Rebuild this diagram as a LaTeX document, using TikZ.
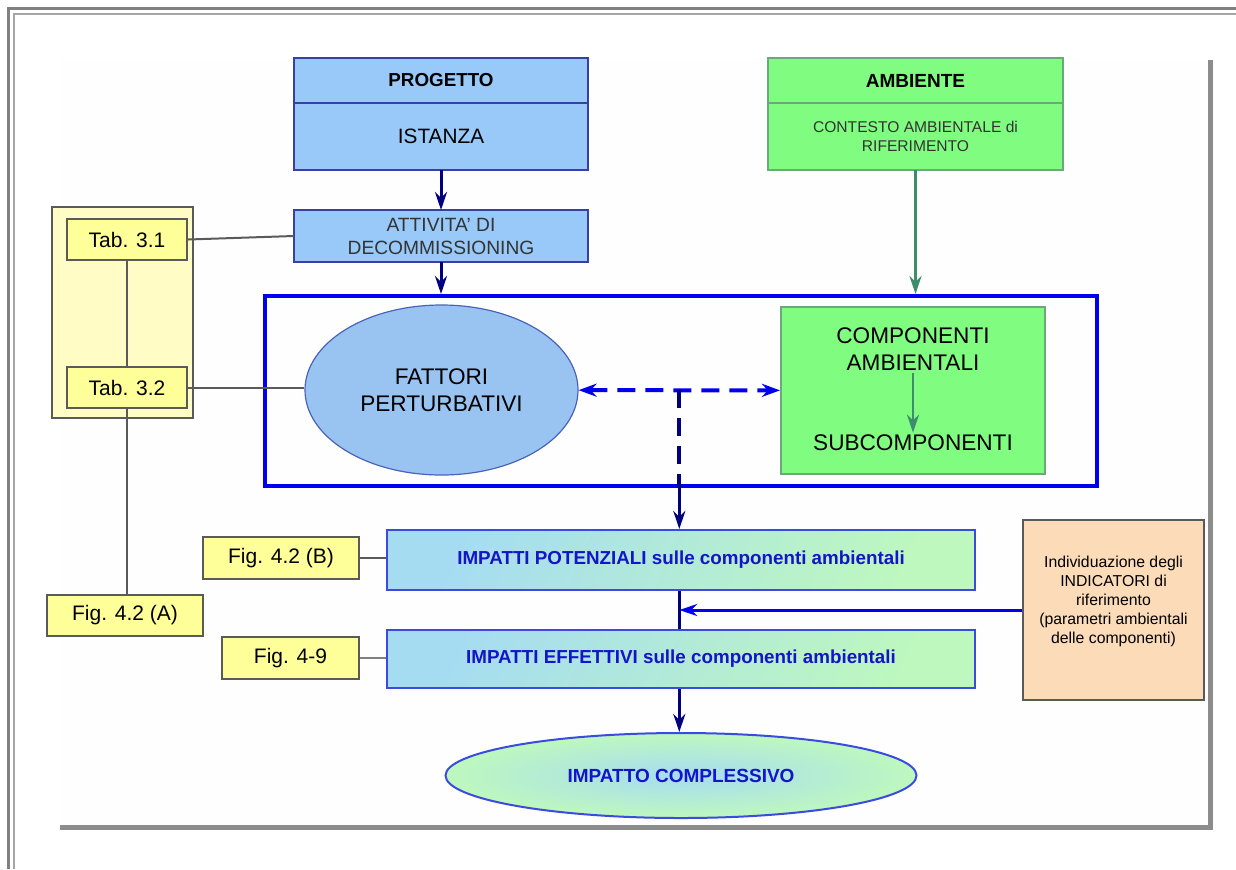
\documentclass[tikz,border=0pt]{standalone}
\usepackage{fontspec}
\setmainfont{Liberation Sans}
\usepackage{tikz}
\usetikzlibrary{positioning, shapes.geometric, arrows.meta, calc}
\usepackage{xcolor}

\definecolor{progfill}{HTML}{99C9F8}
\definecolor{progline}{HTML}{3A3FA8}
\definecolor{ambfill}{HTML}{80FC80}
\definecolor{ambline}{HTML}{6AAA7A}
\definecolor{arrgreen}{HTML}{3C8C6E}
\definecolor{navy}{HTML}{000080}
\definecolor{areablue}{HTML}{0000F0}
\definecolor{ellfill}{HTML}{99C4F2}
\definecolor{ellline}{HTML}{4A62B8}
\definecolor{tabyel}{HTML}{FFFF99}
\definecolor{panelyel}{HTML}{FFFCC6}
\definecolor{boxgray}{HTML}{5A5A5A}
\definecolor{peach}{HTML}{FCDCB8}
\definecolor{gradcyan}{HTML}{A6DCF2}
\definecolor{gradgreen}{HTML}{BEF8BE}
\definecolor{gradline}{HTML}{3B4BE0}
\definecolor{impblue}{HTML}{1414C8}
\definecolor{txtgray}{HTML}{333333}
\definecolor{sheet}{HTML}{FEFEFE}

\begin{document}
\begin{tikzpicture}[x=0.5pt, y=-0.5pt, node distance=0pt,
    hdbox/.style={draw=progline, line width=1pt, fill=progfill, minimum width=147pt, inner sep=0pt, outer sep=0pt},
    envbox/.style={draw=ambline, line width=1pt, fill=ambfill, minimum width=147.5pt, inner sep=0pt, outer sep=0pt},
    tabbox/.style={draw=boxgray, line width=1pt, fill=tabyel, minimum height=20.5pt, minimum width=60pt, inner sep=0pt, font=\fontsize{10.5}{12}\selectfont},
    gradbox/.style={draw=gradline, line width=1pt, top color=gradcyan, bottom color=gradgreen, shading angle=65, minimum width=294pt, inner sep=0pt, text=impblue, font=\bfseries\fontsize{9.4}{11}\selectfont},
    bigtxt/.style={inner sep=1pt, align=center, font=\fontsize{11.3}{13.3}\selectfont},
    navyarrow/.style={-{Stealth[length=9pt, width=6pt]}, line width=1.5pt, draw=navy},
    greenarrow/.style={-{Stealth[length=9pt, width=6pt]}, line width=1.5pt, draw=arrgreen},
    dasharrow/.style={{Stealth[length=9pt, width=6.5pt]}-{Stealth[length=9pt, width=6.5pt]}, line width=2pt, draw=areablue, dash pattern=on 9pt off 5pt},
    conn/.style={line width=1pt, draw=boxgray}]

    % Frame
    \useasboundingbox (0,0) rectangle (1236,869);
    \draw[line width=1.5pt, gray] (7,8.5) -- (1236,8.5);
    \draw[line width=1pt, gray!70] (13,14) -- (1236,14);
    \draw[line width=1.5pt, gray] (8.5,7) -- (8.5,869);
    \draw[line width=1pt, gray!70] (14,13) -- (14,869);
    \fill[sheet] (60,58) rectangle (1208,825);
    \fill[gray!90] (1208,60) rectangle (1213,830);
    \fill[gray!90] (60,825) rectangle (1213,830);

    % Nodes
    \node[hdbox, minimum height=22.5pt, font=\bfseries\fontsize{9.4}{11}\selectfont] (progetto) at (441,80.5) {PROGETTO};
    \node[hdbox, minimum height=33.5pt, below=of progetto, font=\fontsize{10.4}{12}\selectfont] (istanza) {ISTANZA};
    \node[envbox, minimum height=22.5pt, font=\bfseries\fontsize{9.5}{11}\selectfont] (ambiente) at (915.5,80.5) {AMBIENTE};
    \node[envbox, minimum height=33.5pt, below=of ambiente, align=center, text=txtgray, font=\fontsize{7.8}{9.5}\selectfont] (contesto) {CONTESTO AMBIENTALE di\\RIFERIMENTO};
    \node[hdbox, minimum height=26pt, align=center, text=txtgray, font=\fontsize{9.6}{11.5}\selectfont] (attivita) at (441,236) {ATTIVITA' DI\\DECOMMISSIONING};

    \node[draw=areablue, line width=2pt, minimum width=416pt, minimum height=95pt, inner sep=0pt] (area) at (681,391) {};
    \node[ellipse, draw=ellline, line width=0.6pt, fill=ellfill, minimum width=136.5pt, minimum height=85pt, inner sep=0pt, align=center, font=\fontsize{11.3}{13.3}\selectfont] (fattori) at (441.5,390) {FATTORI\\PERTURBATIVI};
    \node[draw=ambline, line width=1pt, fill=ambfill, minimum width=132pt, minimum height=83.5pt] (compamb) at (913,390.5) {};
    \node[bigtxt] (comptxt) at (913,349) {COMPONENTI\\AMBIENTALI};
    \node[bigtxt] (subcomp) at (913,443) {SUBCOMPONENTI};

    \node[draw=boxgray, line width=1pt, fill=panelyel, minimum width=70.5pt, minimum height=105.5pt] (panel) at (122.5,312.5) {};
    \node[tabbox] (tab31) at (127,239.5) {Tab. 3.1};
    \node[tabbox, below=52.5pt of tab31] (tab32) {Tab. 3.2};
    \node[tabbox, minimum width=78pt] (fig42a) at (125,615.5) {Fig. 4.2 (A)};
    \node[tabbox, minimum width=78pt, minimum height=21pt] (fig42b) at (281,558) {Fig. 4.2 (B)};
    \node[tabbox, minimum width=68.5pt, minimum height=21pt] (fig49) at (290.5,658) {Fig. 4-9};

    \node[gradbox, minimum height=30pt] (imppot) at (681,560) {IMPATTI POTENZIALI sulle componenti ambientali};
    \node[gradbox, minimum height=29pt] (impeff) at (681,659) {IMPATTI EFFETTIVI sulle componenti ambientali};
    \node[draw=boxgray, line width=1pt, fill=peach, minimum width=90.5pt, minimum height=90pt] (indic) at (1113.5,610) {};
    \node[align=center, inner sep=0pt, font=\fontsize{7.9}{9.5}\selectfont] (indictxt) at (1113.5,601) {Individuazione degli\\INDICATORI di\\riferimento\\(parametri ambientali\\delle componenti)};
    \node[ellipse, draw=gradline, line width=1pt, inner color=gradcyan, outer color=gradgreen, minimum width=235.5pt, minimum height=42.5pt, inner sep=0pt, text=impblue, font=\bfseries\fontsize{9.5}{11}\selectfont] (imptot) at (681,775.5) {IMPATTO COMPLESSIVO};

    % Arrows
    \draw[navyarrow] (istanza) -- (attivita);
    \draw[navyarrow] (attivita) -- (attivita |- area.north);
    \draw[greenarrow] (contesto) -- (contesto |- area.north);
    \draw[greenarrow, line width=1.2pt] (comptxt) -- (subcomp);
    \draw[dasharrow] (fattori) -- coordinate (junc) (compamb);
    \draw[line width=2pt, draw=navy, dash pattern=on 9pt off 5pt] (junc) -- (junc |- area.south);
    \draw[navyarrow] (junc |- area.south) -- (junc |- imppot.north);
    \draw[line width=1.5pt, draw=navy] (imppot.south -| junc) -- (impeff.north -| junc);
    \draw[navyarrow, draw=areablue] (indic) -- (indic -| junc);
    \draw[navyarrow] (impeff.south -| junc) -- (junc |- imptot.north);

    % Links
    \draw[conn] (tab31.east) -- (attivita.west);
    \draw[conn] (tab31) -- (tab32);
    \draw[conn] (tab32.east) -- (tab32.east -| fattori.west);
    \draw[conn] (tab32) -- (tab32 |- fig42a.north);
    \draw[conn] (fig42b.east) -- (fig42b.east -| imppot.west);
    \draw[conn, draw=gray] (fig49.east) -- (fig49.east -| impeff.west);
\end{tikzpicture}
\end{document}
